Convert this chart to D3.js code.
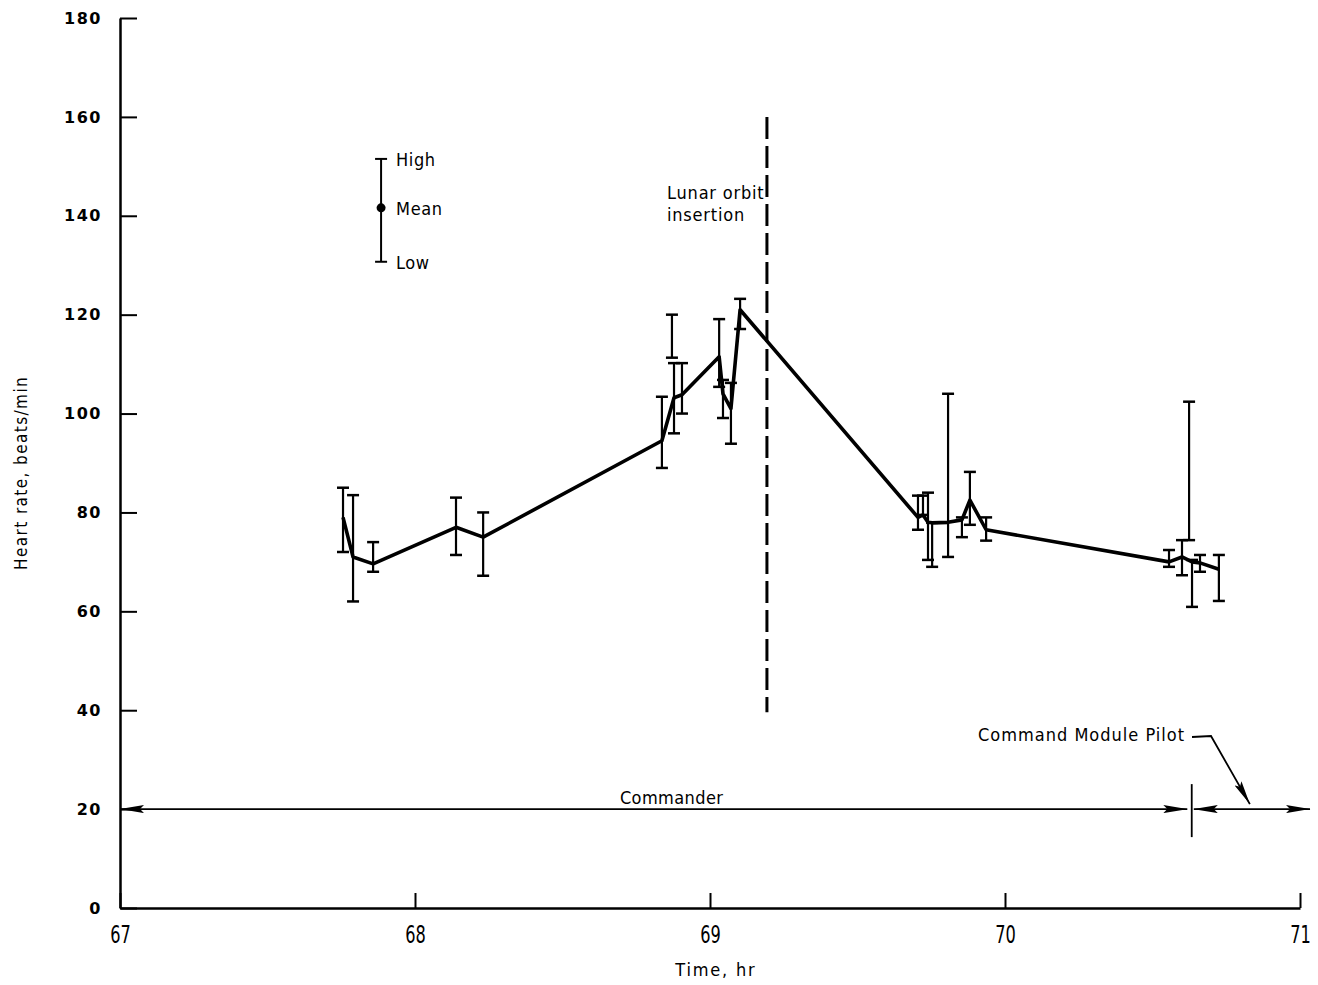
<!DOCTYPE html>
<html>
<head>
<meta charset="utf-8">
<script src="https://cdn.jsdelivr.net/npm/d3@7"></script>
<style>
  html, body { margin: 0; padding: 0; background: #fff; }
  svg { display: block; }
  .lbl { font-family: "DejaVu Sans Condensed", "Liberation Sans Narrow", "Liberation Sans", sans-serif; fill: #000; letter-spacing: 0.6px; }
  .ytick text { font-family: "DejaVu Sans", sans-serif; font-weight: bold; letter-spacing: 1.5px; }
</style>
</head>
<body>
<svg id="chart" width="1318" height="985"></svg>
<script>
// ---- data ----
const times = [67.756, 67.790, 67.858, 68.139, 68.231, 68.837, 68.871, 68.878, 68.905, 69.031,
               69.044, 69.071, 69.102, 69.705, 69.722, 69.739, 69.753, 69.807, 69.854, 69.881,
               69.936, 70.556, 70.600, 70.624, 70.634, 70.661, 70.725];
const means = [79, 71, 69.6, 77, 75, 94.5, null, 103.2, 103.8, 111.5,
               104, 101, 121, 79, 79.5, 78, 77.9, 78, 78.5, 82.5,
               76.5, 70, 71, null, 70, 69.8, 68.5];
const lows  = [72, 62, 68, 71.4, 67.2, 89, 111.3, 96, 100, 105.4,
               99.1, 93.9, 117.1, 76.5, 79.5, 70.4, 69, 71, 75, 77.5,
               74.3, 69, 67.3, 74.4, 60.9, 68, 62.1];
const highs = [85, 83.5, 74, 83, 80, 103.4, 120, 110.2, 110.2, 119.1,
               106.8, 106.2, 123.2, 83.4, 83.4, 84, 77.9, 104, 79, 88.2,
               79, 72.4, 74.4, 102.4, 70.4, 71.4, 71.4];
const xTicks = [67, 68, 69, 70, 71];
const yTicks = [0, 20, 40, 60, 80, 100, 120, 140, 160, 180];
const legendTime = 67.885;
const legendValues = { high: 151.5, mean: 141.6, low: 130.7 };
const loiTime = 69.193;
const loiRange = [39.6, 160];
const crewLevel = 20;
const commanderSpan = [67.0, 70.618];
const cmpSpan = [70.64, 71.034];
const crewSplit = 70.633;
const cmpArrowTip = 70.83;

// ---- layout ----
const svg = d3.select("#chart");
const x = d3.scaleLinear().domain([67, 71]).range([120, 1300]);
const y = d3.scaleLinear().domain([0, 180]).range([908, 18]);

const defs = svg.append("defs");
defs.append("marker").attr("id", "arrR").attr("viewBox", "0 0 24 8")
  .attr("refX", 24).attr("refY", 4).attr("markerWidth", 24).attr("markerHeight", 8)
  .attr("markerUnits", "userSpaceOnUse").attr("orient", "auto")
  .append("path").attr("d", "M0,0 L24,4 L0,8 L4,4 Z").attr("fill", "#000");
defs.append("marker").attr("id", "arrL").attr("viewBox", "0 0 24 8")
  .attr("refX", 24).attr("refY", 4).attr("markerWidth", 24).attr("markerHeight", 8)
  .attr("markerUnits", "userSpaceOnUse").attr("orient", "auto-start-reverse")
  .append("path").attr("d", "M0,0 L24,4 L0,8 L4,4 Z").attr("fill", "#000");

// axes
const yAxis = d3.axisLeft(y).tickValues(yTicks).tickSizeInner(-17).tickSizeOuter(0).tickPadding(18)
  .tickFormat(d3.format("d"));
const gy = svg.append("g").attr("class", "ytick").attr("transform", `translate(${x(67)},0)`).call(yAxis);
gy.selectAll("text").attr("font-size", 16).attr("fill", "#000");
gy.selectAll("line").attr("stroke", "#000").attr("stroke-width", 2);
gy.select(".domain").attr("stroke", "#000").attr("stroke-width", 2.5);

const xAxis = d3.axisBottom(x).tickValues(xTicks).tickSizeInner(-15).tickSizeOuter(0).tickPadding(17)
  .tickFormat(d3.format("d"));
const gx = svg.append("g").attr("transform", `translate(0,${y(0)})`).call(xAxis);
gx.selectAll("text").attr("class", "lbl").attr("font-size", 25).attr("fill", "#000")
  .style("letter-spacing", "0px").attr("transform", "scale(0.72,1)");
gx.selectAll("line").attr("stroke", "#000").attr("stroke-width", 2);
gx.select(".domain").attr("stroke", "#000").attr("stroke-width", 2.5);

// axis titles
svg.append("text").attr("class", "lbl").attr("font-size", 17).style("letter-spacing", "1.4px")
  .attr("transform", `translate(27,${y(88)}) rotate(-90)`).attr("text-anchor", "middle")
  .text("Heart rate, beats/min");
svg.append("text").attr("class", "lbl").attr("font-size", 18).style("letter-spacing", "1.8px")
  .attr("x", x(69.02)).attr("y", 976).attr("text-anchor", "middle").text("Time, hr");

// data
const pts = times.map((t, i) => ({ t, mean: means[i], lo: lows[i], hi: highs[i] }));
const cap = 6;
const bars = svg.append("g").attr("stroke", "#000").attr("stroke-width", 2.2);
pts.forEach(p => {
  bars.append("line").attr("x1", x(p.t)).attr("x2", x(p.t)).attr("y1", y(p.hi)).attr("y2", y(p.lo));
  bars.append("line").attr("x1", x(p.t) - cap).attr("x2", x(p.t) + cap).attr("y1", y(p.hi)).attr("y2", y(p.hi)).attr("stroke-width", 2.5);
  bars.append("line").attr("x1", x(p.t) - cap).attr("x2", x(p.t) + cap).attr("y1", y(p.lo)).attr("y2", y(p.lo)).attr("stroke-width", 2.5);
});
const line = d3.line().x(d => x(d.t)).y(d => y(d.mean));
svg.append("path").datum(pts.filter(p => p.mean != null)).attr("d", line)
  .attr("fill", "none").attr("stroke", "#000").attr("stroke-width", 3.6).attr("stroke-linejoin", "round");

// legend
const lg = svg.append("g");
const lx = x(legendTime);
lg.append("line").attr("x1", lx).attr("x2", lx).attr("y1", y(legendValues.high)).attr("y2", y(legendValues.low))
  .attr("stroke", "#000").attr("stroke-width", 2);
[legendValues.high, legendValues.low].forEach(v => lg.append("line")
  .attr("x1", lx - 6).attr("x2", lx + 6).attr("y1", y(v)).attr("y2", y(v)).attr("stroke", "#000").attr("stroke-width", 2));
lg.append("circle").attr("cx", lx).attr("cy", y(legendValues.mean)).attr("r", 4.5).attr("fill", "#000");
[["High", legendValues.high], ["Mean", legendValues.mean], ["Low", legendValues.low]].forEach(([s, v]) =>
  lg.append("text").attr("class", "lbl").attr("font-size", 18).attr("x", lx + 15).attr("y", y(v) + 7).text(s));

// lunar orbit insertion
svg.append("line").attr("x1", x(loiTime)).attr("x2", x(loiTime)).attr("y1", y(loiRange[1])).attr("y2", y(loiRange[0]))
  .attr("stroke", "#000").attr("stroke-width", 3).attr("stroke-dasharray", "22,7");
svg.append("text").attr("class", "lbl").attr("font-size", 18).style("letter-spacing", "0.8px").attr("x", 667).attr("y", 199).text("Lunar orbit");
svg.append("text").attr("class", "lbl").attr("font-size", 18).style("letter-spacing", "0.8px").attr("x", 667).attr("y", 221).text("insertion");

// crew arrows
svg.append("line").attr("x1", x(commanderSpan[0])).attr("x2", x(commanderSpan[1]))
  .attr("y1", y(crewLevel)).attr("y2", y(crewLevel)).attr("stroke", "#000").attr("stroke-width", 1.8)
  .attr("marker-start", "url(#arrL)").attr("marker-end", "url(#arrR)");
svg.append("line").attr("x1", x(cmpSpan[0])).attr("x2", x(cmpSpan[1]))
  .attr("y1", y(crewLevel)).attr("y2", y(crewLevel)).attr("stroke", "#000").attr("stroke-width", 1.8)
  .attr("marker-start", "url(#arrL)").attr("marker-end", "url(#arrR)");
svg.append("line").attr("x1", x(crewSplit)).attr("x2", x(crewSplit))
  .attr("y1", y(crewLevel) - 25).attr("y2", y(crewLevel) + 28).attr("stroke", "#000").attr("stroke-width", 1.8);
svg.append("text").attr("class", "lbl").attr("font-size", 18).style("letter-spacing", "0.4px").attr("x", x(68.87)).attr("y", y(crewLevel) - 5)
  .attr("text-anchor", "middle").text("Commander");
svg.append("text").attr("class", "lbl").attr("font-size", 18).style("letter-spacing", "1px").attr("x", 978).attr("y", 741).text("Command Module Pilot");
svg.append("path").attr("d", `M1192,737 L1211,736 L${x(cmpArrowTip)},${y(crewLevel) - 5}`)
  .attr("fill", "none").attr("stroke", "#000").attr("stroke-width", 1.8).attr("marker-end", "url(#arrR)");
</script>
</body>
</html>
